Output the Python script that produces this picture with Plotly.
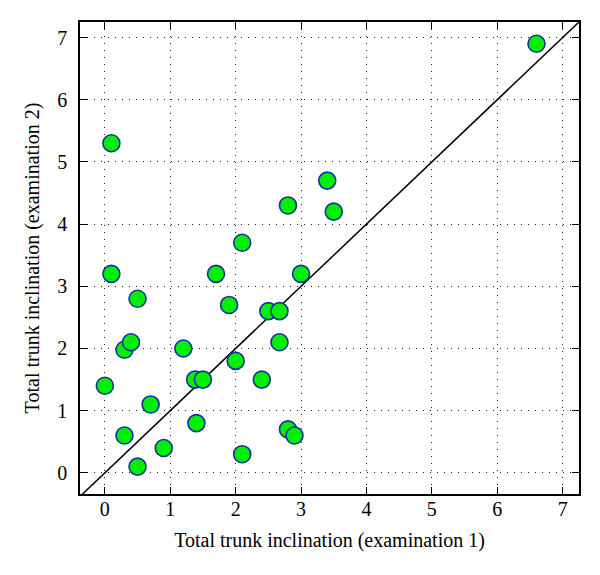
import plotly.graph_objects as go

exam1 = [0.1, 0.1, 0.5, 1.7, 2.1, 2.8, 3.0, 3.4, 3.5, 6.6, 1.9, 2.5, 2.67, 0.3, 0.4,
         1.2, 2.67, 2.0, 0.0, 1.38, 1.5, 2.4, 0.7, 1.4, 0.3, 0.9, 0.5, 2.1, 2.8, 2.9]
exam2 = [5.3, 3.2, 2.8, 3.2, 3.7, 4.3, 3.2, 4.7, 4.2, 6.9, 2.7, 2.6, 2.6, 1.98, 2.1,
         2.0, 2.1, 1.8, 1.4, 1.5, 1.5, 1.5, 1.1, 0.8, 0.6, 0.4, 0.1, 0.3, 0.7, 0.6]
x_range = [-0.38, 7.25]
y_range = [-0.34, 7.25]
ticks = [0, 1, 2, 3, 4, 5, 6, 7]

fig = go.Figure()
fig.add_trace(go.Scatter(x=[-0.4, 7.3], y=[-0.4, 7.3], mode="lines",
                         line=dict(color="black", width=1.5), hoverinfo="skip"))
fig.add_trace(go.Scatter(x=exam1, y=exam2, mode="markers",
                         marker=dict(size=17, color="#00ee00",
                                     line=dict(color="#1530a0", width=1.6))))

axis_common = dict(tickvals=ticks, ticks="inside", ticklen=7,
                   tickwidth=1.2, tickcolor="black", showline=True, linecolor="black",
                   linewidth=1.5, mirror="ticks", showgrid=True, gridcolor="#222222",
                   griddash="1px,6px", gridwidth=1.2, zeroline=False,
                   tickfont=dict(family="Liberation Serif", size=20, color="black"))

fig.update_layout(
    width=600, height=575,
    margin=dict(l=72, r=29, t=12, b=89),
    paper_bgcolor="white", plot_bgcolor="white",
    showlegend=False,
    font=dict(family="Liberation Serif", color="black"),
    xaxis=dict(**axis_common, range=x_range, ticklabelstandoff=-4,
               title=dict(text="Total trunk inclination (examination 1)",
                          font=dict(family="Liberation Serif", size=20),
                          standoff=14)),
    yaxis=dict(**axis_common, range=y_range, ticklabelstandoff=7,
               title=dict(text="Total trunk inclination (examination 2)",
                          font=dict(family="Liberation Serif", size=20),
                          standoff=12)),
)
fig.write_html("out.html")
